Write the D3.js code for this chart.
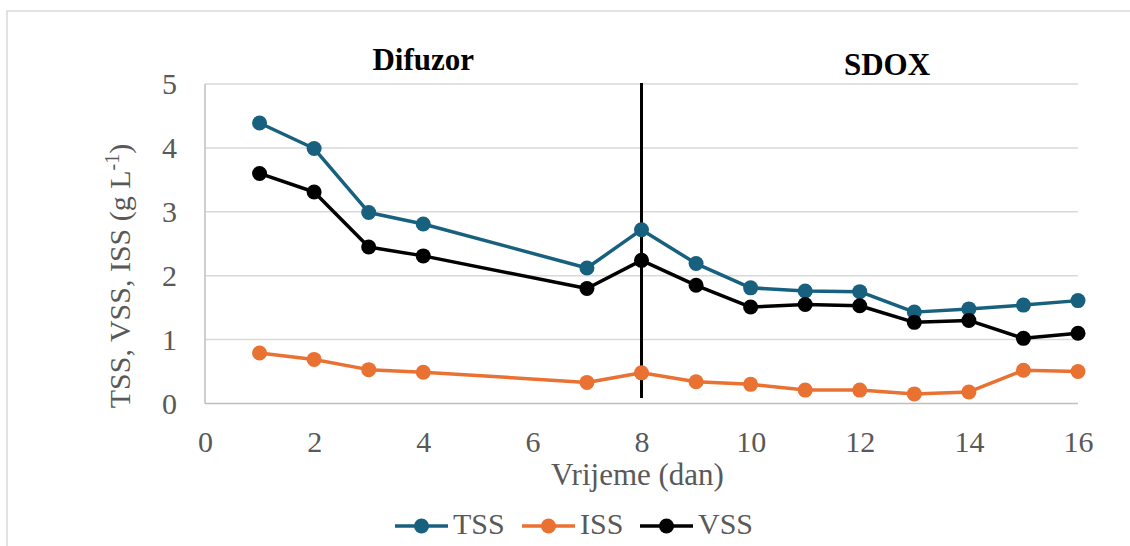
<!DOCTYPE html>
<html>
<head>
<meta charset="utf-8">
<script src="https://cdn.jsdelivr.net/npm/d3@7"></script>
<style>
  html, body { margin: 0; padding: 0; background: #fff; }
  svg { display: block; }
</style>
</head>
<body>
<svg id="chart" width="1130" height="546"></svg>
<script>
const days = [1, 2, 3, 4, 7, 8, 9, 10, 11, 12, 13, 14, 15, 16];
const tss = [4.39, 3.99, 2.99, 2.81, 2.12, 2.72, 2.19, 1.81, 1.76, 1.75, 1.43, 1.48, 1.54, 1.61];
const iss = [0.79, 0.69, 0.53, 0.49, 0.33, 0.48, 0.34, 0.30, 0.21, 0.21, 0.15, 0.18, 0.52, 0.50];
const vss = [3.60, 3.31, 2.45, 2.31, 1.80, 2.24, 1.85, 1.51, 1.55, 1.53, 1.27, 1.30, 1.02, 1.10];
const xTicks = [0, 2, 4, 6, 8, 10, 12, 14, 16];
const yTicks = [0, 1, 2, 3, 4, 5];
const seriesNames = ["TSS", "ISS", "VSS"];
const seriesColors = ["#17617f", "#e97132", "#000000"];
const phaseLabels = ["Difuzor", "SDOX"];
const phaseX = [4.0, 12.5];
const switchDay = 8;

const series = [
  { name: seriesNames[0], values: tss, color: seriesColors[0] },
  { name: seriesNames[1], values: iss, color: seriesColors[1] },
  { name: seriesNames[2], values: vss, color: seriesColors[2] }
];

const svg = d3.select("#chart");
const FONT = '"Liberation Serif"';
const textGray = "#595959";

// outer border
svg.append("rect").attr("x", 7).attr("y", 11).attr("width", 1140).attr("height", 560)
  .attr("fill", "none").attr("stroke", "#d9d9d9").attr("stroke-width", 1.5);

const x = d3.scaleLinear().domain([0, 16]).range([205, 1078]);
const y = d3.scaleLinear().domain([0, 5]).range([403.5, 84]);

// gridlines
svg.append("g").selectAll("line").data(yTicks.filter(d => d > 0)).join("line")
  .attr("x1", x(0)).attr("x2", x(16))
  .attr("y1", d => y(d)).attr("y2", d => y(d))
  .attr("stroke", "#d9d9d9").attr("stroke-width", 1.5);

// axis lines
svg.append("line").attr("x1", x(0)).attr("x2", x(16)).attr("y1", y(0)).attr("y2", y(0))
  .attr("stroke", "#bfbfbf").attr("stroke-width", 1.5);
svg.append("line").attr("x1", x(0)).attr("x2", x(0)).attr("y1", y(5)).attr("y2", y(0))
  .attr("stroke", "#bfbfbf").attr("stroke-width", 1.5);

// y tick labels
const yAxis = d3.axisLeft(y).tickValues(yTicks).tickSize(0).tickPadding(28).tickFormat(d3.format("d"));
const gy = svg.append("g").attr("transform", `translate(${x(0)},0)`).call(yAxis);
gy.select(".domain").remove();
gy.selectAll("text").style("font-family", FONT).style("font-size", "30px")
  .attr("fill", textGray).attr("dy", "0.33em");

// x tick labels
const xAxis = d3.axisBottom(x).tickValues(xTicks).tickSize(0).tickPadding(0).tickFormat(d3.format("d"));
const gx = svg.append("g").attr("transform", `translate(0,${y(0)})`).call(xAxis);
gx.select(".domain").remove();
gx.selectAll("text").style("font-family", FONT).style("font-size", "30px")
  .attr("fill", textGray).attr("y", 48).attr("dy", 0);

// axis titles
svg.append("text").attr("x", x(8) - 4).attr("y", 485).attr("text-anchor", "middle")
  .style("font-family", FONT).style("font-size", "31px").attr("fill", textGray).text("Vrijeme (dan)");

const yt = svg.append("text").attr("transform", "translate(130,276) rotate(-90)")
  .attr("text-anchor", "middle").style("font-family", FONT).style("font-size", "30px").attr("fill", textGray);
yt.append("tspan").text("TSS, VSS, ISS (g L");
yt.append("tspan").style("font-size", "20px").attr("dy", -11).text("-1");
yt.append("tspan").attr("dy", 11).text(")");

// phase switch line
svg.append("line").attr("x1", x(switchDay)).attr("x2", x(switchDay)).attr("y1", 83).attr("y2", 398)
  .attr("stroke", "#000").attr("stroke-width", 3);

// phase labels
svg.append("text").attr("x", x(phaseX[0])).attr("y", 70).attr("text-anchor", "middle")
  .style("font-family", FONT).style("font-size", "31px").style("font-weight", "bold")
  .attr("fill", "#000").text(phaseLabels[0]);
svg.append("text").attr("x", x(phaseX[1])).attr("y", 75).attr("text-anchor", "middle")
  .style("font-family", FONT).style("font-size", "31px").style("font-weight", "bold")
  .attr("fill", "#000").text(phaseLabels[1]);

// lines + markers
const line = d3.line().x((d, i) => x(days[i])).y(d => y(d));
series.forEach(s => {
  svg.append("path").datum(s.values).attr("d", line)
    .attr("fill", "none").attr("stroke", s.color).attr("stroke-width", 3.5).attr("stroke-linejoin", "round");
  svg.append("g").selectAll("circle").data(s.values).join("circle")
    .attr("cx", (d, i) => x(days[i])).attr("cy", d => y(d)).attr("r", 7.5).attr("fill", s.color);
});

// legend
const legendX = [395, 522, 640];
series.forEach((s, i) => {
  const g = svg.append("g").attr("transform", `translate(${legendX[i]},526)`);
  g.append("line").attr("x1", 0).attr("x2", 53).attr("y1", 0).attr("y2", 0)
    .attr("stroke", s.color).attr("stroke-width", 3.5);
  g.append("circle").attr("cx", 26.5).attr("cy", 0).attr("r", 7.5).attr("fill", s.color);
  g.append("text").attr("x", 58).attr("y", 8).style("font-family", FONT).style("font-size", "30px")
    .attr("fill", textGray).text(s.name);
});
</script>
</body>
</html>
